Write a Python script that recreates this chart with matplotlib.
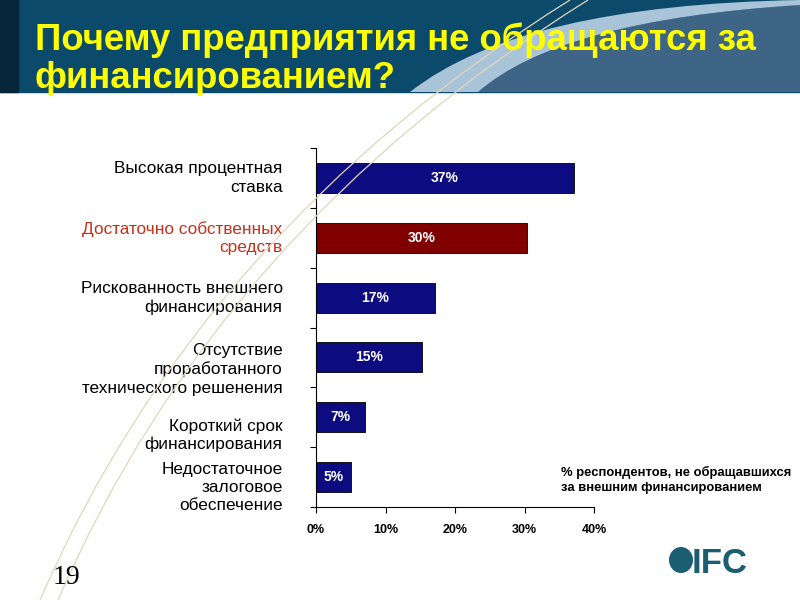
import matplotlib.pyplot as plt
from matplotlib.patches import PathPatch, Rectangle, Ellipse
from matplotlib.path import Path

plt.rcParams['font.family'] = ['Liberation Sans', 'DejaVu Sans']

# data
reasons = [
    "Высокая процентная\nставка",
    "Достаточно собственных\nсредств",
    "Рискованность внешнего\nфинансирования",
    "Отсутствие\nпроработанного\nтехнического решенения",
    "Короткий срок\nфинансирования",
    "Недостаточное\nзалоговое\nобеспечение",
]
shares = [37.1, 30.4, 17.1, 15.2, 7.1, 5.1]
highlight = [False, True, False, False, False, False]
# the slide's category labels sit a bit below their bars for the lower rows
label_shift = [0, 0, 0, 0.2, 0.3, 0.17]
x_ticks = [0, 10, 20, 30, 40]
x_tick_labels = ["0%", "10%", "20%", "30%", "40%"]

title_lines = ["Почему предприятия не обращаются за", "финансированием?"]
note = "% респондентов, не обращавшихся\nза внешним финансированием"

navy = "#0c0c80"
maroon = "#800000"
label_red = "#c8301c"

W, H = 800, 600
fig = plt.figure(figsize=(8, 6), dpi=100)


def px(x, y):
    # pixel coords (top-left origin) -> figure fraction
    return x / W, 1 - y / H


def curve(points, codes):
    return Path([px(*p) for p in points], codes)


# header band
fig.patches.append(Rectangle(px(0, 92), 1, 92 / H, transform=fig.transFigure,
                             color="#0b4a6b", zorder=0))
fig.patches.append(Rectangle(px(0, 92), 18 / W, 92 / H, transform=fig.transFigure,
                             color="#062538", zorder=0))
C3, L = Path.CURVE3, Path.LINETO
# lighter right area
p = curve([(478, 92), (560, 20), (800, 5), (800, 92), (478, 92)],
          [Path.MOVETO, C3, C3, L, L])
fig.patches.append(PathPatch(p, transform=fig.transFigure, fc="#3e6586",
                             ec="none", zorder=0))
# light swoosh
p = curve([(410, 92), (520, 5), (800, 0), (800, 5), (560, 20), (478, 92), (410, 92)],
          [Path.MOVETO, C3, C3, L, C3, C3, L])
fig.patches.append(PathPatch(p, transform=fig.transFigure, fc="#a9c4d8",
                             ec="none", zorder=0))
# thin beige lines across the slide
for dx in (0, 18):
    p = curve([(40 + dx, 600), (200 + dx, 230), (570 + dx, 0)],
              [Path.MOVETO, C3, C3])
    fig.patches.append(PathPatch(p, transform=fig.transFigure, fc="none",
                                 ec="#e2d6bc", lw=0.9, zorder=0.5))

for line, base in zip(title_lines, (50, 88)):
    fig.text(35 / W, 1 - base / H, line, color="#ffff00", fontsize=26.3,
             fontweight="bold", ha="left", va="baseline", zorder=2)

# chart
ax = fig.add_axes([316 / W, 1 - 507 / H, 278 / W, 359 / H])
ax.patch.set_alpha(0)
ypos = list(range(len(reasons)))
colors = [maroon if h else navy for h in highlight]
bars = ax.barh(ypos, shares, height=0.5, color=colors, edgecolor="black",
               linewidth=0.6)
for b, v in zip(bars, shares):
    ax.text(b.get_x() + b.get_width() / 2, b.get_y() + b.get_height() / 2,
            f"{v:.0f}%", color="white", fontsize=10, fontweight="bold",
            ha="center", va="center")

ax.set_xlim(0, 40)
ax.set_ylim(len(reasons) - 0.5, -0.5)
ax.set_xticks(x_ticks)
ax.set_xticklabels(x_tick_labels, fontsize=9, fontweight="bold")
ax.set_yticks(ypos)
ax.set_yticklabels([])
ax.set_yticks([i - 0.5 for i in range(len(reasons) + 1)], minor=True)
ax.tick_params(axis="y", which="major", length=0)
ax.tick_params(axis="y", which="minor", length=4, width=0.8, direction="out")
ax.tick_params(axis="x", length=4, width=0.8, direction="out", pad=8)
for s in ("top", "right"):
    ax.spines[s].set_visible(False)
for s in ("left", "bottom"):
    ax.spines[s].set_linewidth(0.8)

for y, name, h, sh in zip(ypos, reasons, highlight, label_shift):
    ax.text(-4.8, y + sh, name, ha="right", va="center", fontsize=12.4,
            color=label_red if h else "black", linespacing=1.27)

fig.text(561 / W, 1 - 480 / H, note, fontsize=9.4, fontweight="bold",
         ha="left", va="center", linespacing=1.4)

fig.text(53 / W, 1 - 577 / H, "19", fontsize=20, family="Liberation Serif",
         ha="left", va="center")

# IFC logo
teal = "#1b5e72"
fig.patches.append(Ellipse(px(681, 560), 24 / W, 26 / H, transform=fig.transFigure,
                           fc=teal, ec="none"))
fig.text(692 / W, 1 - 573 / H, "IFC", fontsize=25, fontweight="bold",
         color=teal, ha="left", va="baseline")

fig.savefig("out.png", dpi=100)
